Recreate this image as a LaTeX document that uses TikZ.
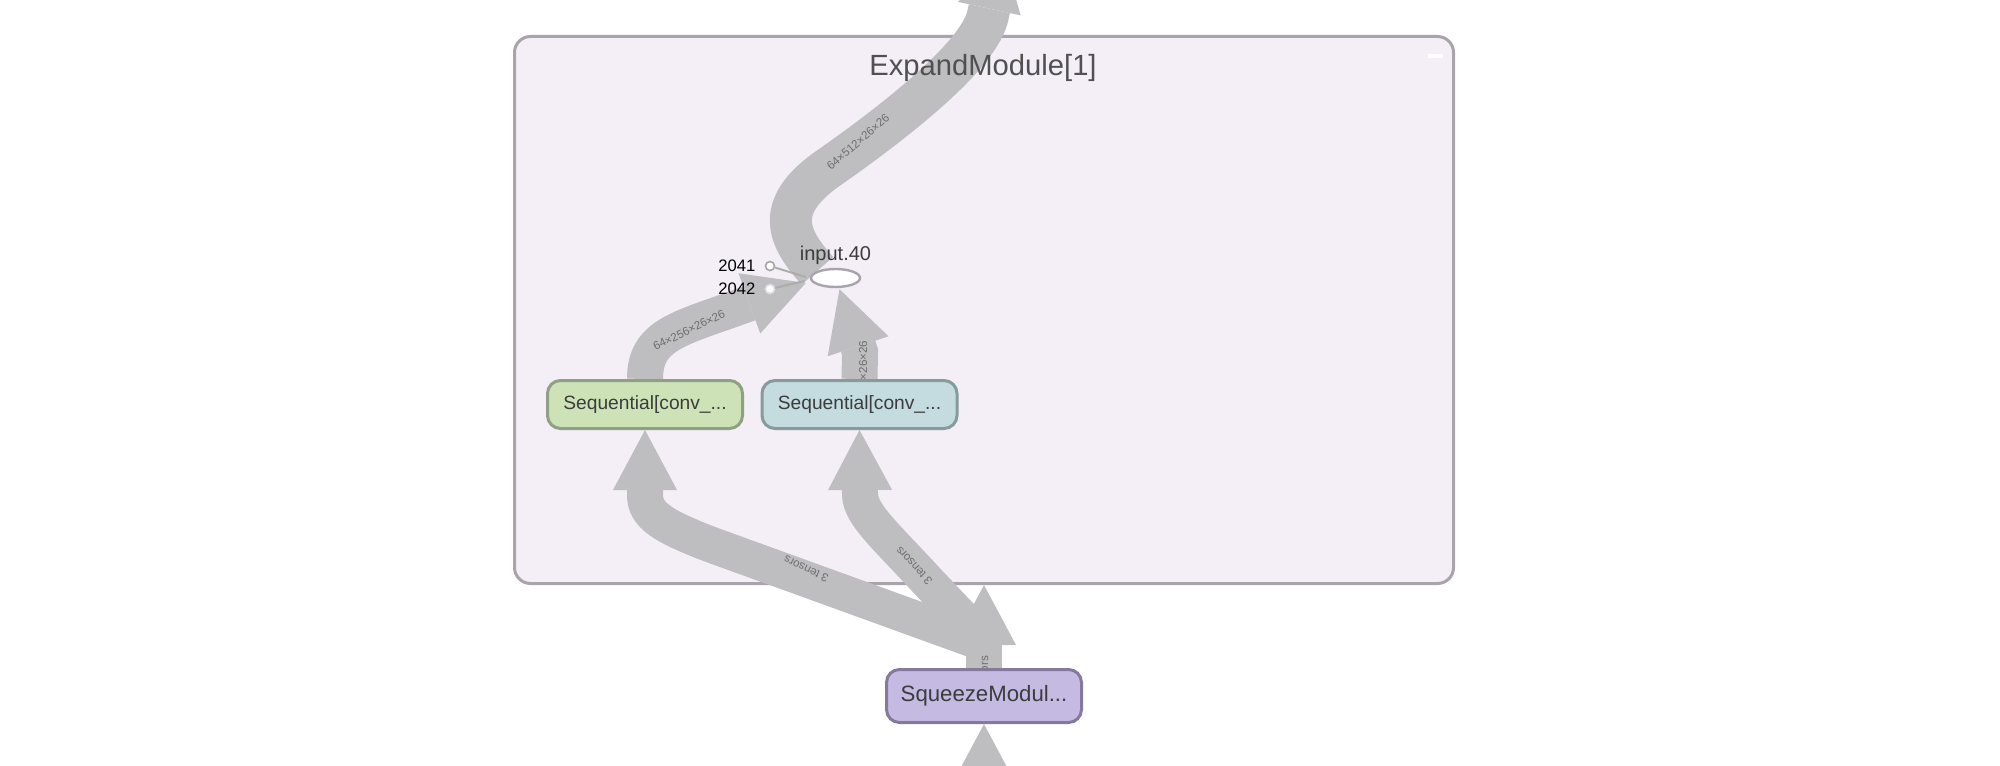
\documentclass[tikz,border=0pt]{standalone}
\usepackage{fontspec}
\setmainfont{Liberation Sans}
\usetikzlibrary{positioning,shapes.geometric,arrows.meta,calc}
\definecolor{clusterfill}{HTML}{F4EEF6}
\definecolor{clusterline}{HTML}{A9A3AB}
\definecolor{flowgray}{HTML}{BEBDC0}
\definecolor{nodetext}{HTML}{3C3C3C}
\definecolor{labeltext}{HTML}{6E6E6E}
\definecolor{seqgreen}{HTML}{CDE3B7}
\definecolor{seqgreenline}{HTML}{8FA084}
\definecolor{seqblue}{HTML}{C4DCDF}
\definecolor{seqblueline}{HTML}{879A9C}
\definecolor{sqzpurple}{HTML}{C5BAE2}
\definecolor{sqzpurpleline}{HTML}{857A9E}
\pgfdeclarelayer{cluster}
\pgfdeclarelayer{flows}
\pgfsetlayers{cluster,flows,main}
\begin{document}
\begin{tikzpicture}[x=0.5pt, y=-0.5pt, node distance=107.25pt,
    op/.style = {draw, rounded corners=6.5pt, line width=1.5pt, minimum width=97.5pt, minimum height=24pt, inner sep=0pt, text=nodetext, font=\fontsize{9.6}{11}\selectfont},
    flow/.style = {draw=flowgray, line width=18pt, -{Triangle[width=32pt, length=30pt, line width=0pt]}},
    flowlbl/.style = {text=labeltext, inner sep=0pt, font=\fontsize{5.8}{7}\selectfont},
    port/.style = {draw=#1, fill=white, circle, line width=0.8pt, minimum size=4.5pt, inner sep=0pt},
    portlbl/.style = {text=black, inner sep=0pt, font=\fontsize{8.3}{10}\selectfont}]
  \useasboundingbox (0,0) rectangle (2000,765);
  \clip (0,0) rectangle (2000,765);

  \begin{pgfonlayer}{cluster}
    \node[draw=clusterline, fill=clusterfill, line width=1.5pt, rounded corners=8pt,
          minimum width=469.5pt, minimum height=273.5pt] (expand) at (984,310) {};
  \end{pgfonlayer}
  \node[text=nodetext!90, font=\fontsize{14.6}{17}\selectfont] (title) at (983,68) {ExpandModule[1]};
  \fill[white] (1428,54) rectangle (1443,58);

  % nodes
  \node[op, fill=seqgreen, draw=seqgreenline] (seqA) at (645,404.5) {Sequential[conv\_...};
  \node[op, fill=seqblue, draw=seqblueline] (seqB) [right of=seqA] {Sequential[conv\_...};
  \node[op, fill=sqzpurple, draw=sqzpurpleline, minimum height=26.5pt, font=\fontsize{11.1}{13}\selectfont] (sqz) at (984,696) {SqueezeModul...};
  \node[ellipse, draw=clusterline, fill=white, line width=1.2pt, minimum width=24.5pt, minimum height=9pt, inner sep=0pt,
        label={[name=in40lbl, text=nodetext, inner sep=0pt, label distance=1.5pt, font=\fontsize{10}{12}\selectfont]above:input.40}] (in40) at (835.5,278) {};
  \node[port=gray!70] (p2041) at (770,266) [label={[portlbl, label distance=4.5pt]left:2041}] {};
  \node[port=gray!25] (p2042) at (770,289) [label={[portlbl, label distance=4.5pt]left:2042}] {};
  \draw[gray!65, line width=1pt] (p2041) -- ($(in40.west)+(-4,-1)$);
  \draw[gray!65, line width=1pt] (p2042) -- ($(in40.west)+(-5,3)$);

  \coordinate (out) at (1002,-50);
  \coordinate (xin) at (988,645);
  \coordinate (feed) at (984,850);

  \begin{pgfonlayer}{flows}
    \clip (0,0) rectangle (2000,765);
    \draw[flow, line width=21pt] (in40.north west) .. controls (790,240) and (770,208) .. (830,167)
        .. controls (900,118) and (980,54) .. (988,15) -- (out);
    \draw[flow] (seqA.north) .. controls (645,335) and (678,329) .. (742,306) -- ($(in40.west)+(-4,5)$);
    \draw[flow] (seqB.north) -- (860,352) -- ($(in40.south)+(4,1)$);
    \draw[flow] (xin) -- (712,545) .. controls (662,526) and (645,515) .. (645,495) -- (seqA.south);
    \draw[flow] (xin) -- (930,584) .. controls (885,535) and (861,515) .. (860,495) -- (seqB.south);
    \draw[flow] (sqz.north) -- (sqz.north |- expand.south);
    \draw[flow] (feed) -- (sqz.south);
    % edge labels
    \node[flowlbl, rotate=41] (lblOut) at (858,142) {64×512×26×26};
    \node[flowlbl, rotate=26] (lblA) at (689,330) {64×256×26×26};
    \node[flowlbl, rotate=90] (lblB) at (863,380) {64×256×26×26};
    \node[flowlbl, rotate=155] (lblInA) at (806,569) {3 tensors};
    \node[flowlbl, rotate=133] (lblInB) at (914,566) {3 tensors};
    \node[flowlbl, rotate=90] (lblSqz) at (984,680) {3 tensors};
  \end{pgfonlayer}
\end{tikzpicture}
\end{document}
